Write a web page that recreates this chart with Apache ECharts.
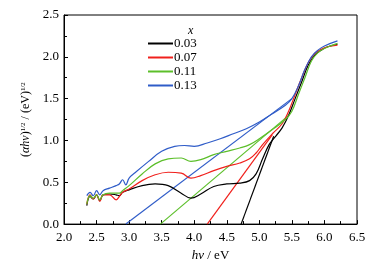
<!DOCTYPE html>
<html>
<head>
<meta charset="utf-8">
<script src="https://cdn.jsdelivr.net/npm/echarts@6/dist/echarts.min.js"></script>
<style>html,body{margin:0;padding:0;background:#fff}#container1{width:386px;height:267px}</style>
</head>
<body>
<div id="container1"></div>
<script>
var names = ['0.03', '0.07', '0.11', '0.13'];
var colors = ['#000000', '#f0201c', '#5cbf2a', '#2f5cc8'];

var x03 = [2.35,2.4,2.45,2.5,2.55,2.6,2.7,2.8,2.85,2.9,3.0,3.2,3.4,3.6,3.8,3.95,4.1,4.3,4.5,4.7,4.85,4.95,5.05,5.15,5.25,5.35,5.45,5.55,5.65,5.75,5.85,5.95,6.05,6.2];
var y03 = [0.22,0.33,0.3,0.35,0.28,0.35,0.36,0.35,0.34,0.38,0.41,0.46,0.48,0.46,0.37,0.31,0.36,0.45,0.48,0.49,0.52,0.6,0.78,0.95,1.05,1.15,1.3,1.5,1.7,1.9,2.02,2.08,2.12,2.15];

var x07 = [2.35,2.4,2.45,2.5,2.55,2.6,2.7,2.8,2.85,2.9,3.0,3.2,3.4,3.6,3.8,3.95,4.1,4.3,4.5,4.7,4.85,4.95,5.05,5.2,5.35,5.45,5.55,5.65,5.75,5.85,5.95,6.05,6.2];
var y07 = [0.24,0.35,0.3,0.35,0.27,0.35,0.35,0.29,0.33,0.38,0.42,0.52,0.59,0.62,0.61,0.55,0.58,0.64,0.69,0.73,0.78,0.85,0.95,1.08,1.2,1.35,1.55,1.75,1.93,2.04,2.09,2.12,2.14];

var x11 = [2.35,2.4,2.45,2.5,2.55,2.6,2.7,2.8,2.85,2.9,3.0,3.2,3.4,3.6,3.8,3.95,4.1,4.3,4.5,4.7,4.85,5.0,5.2,5.4,5.5,5.6,5.7,5.8,5.9,6.0,6.2];
var y11 = [0.24,0.34,0.31,0.35,0.29,0.35,0.37,0.37,0.37,0.4,0.46,0.6,0.72,0.78,0.79,0.75,0.77,0.83,0.87,0.91,0.95,1.02,1.13,1.25,1.35,1.55,1.75,1.95,2.05,2.1,2.16];

var x13 = [2.35,2.4,2.45,2.5,2.55,2.6,2.7,2.8,2.85,2.9,2.95,3.0,3.1,3.3,3.5,3.7,3.85,4.0,4.2,4.4,4.6,4.8,5.0,5.2,5.4,5.5,5.6,5.7,5.8,5.9,6.0,6.2];
var y13 = [0.34,0.38,0.34,0.4,0.35,0.4,0.43,0.46,0.48,0.53,0.47,0.55,0.62,0.75,0.87,0.93,0.94,0.93,0.97,1.02,1.08,1.14,1.22,1.32,1.42,1.5,1.65,1.85,2.0,2.08,2.13,2.19];

// tangent (Tauc) lines: start and end points
var fitX = [[4.72, 5.22], [4.2, 5.2], [3.48, 5.45], [2.95, 5.5]];
var fitY = [[0, 1.05], [0, 1.07], [0, 1.3], [0, 1.5]];

function pairs(xs, ys) {
    return xs.map(function (v, i) { return [v, ys[i]]; });
}

var curves = [pairs(x03, y03), pairs(x07, y07), pairs(x11, y11), pairs(x13, y13)];

var dom = document.getElementById("container1");
var myChart = echarts.init(dom);
var font = '"Liberation Serif", "DejaVu Serif", serif';

var series = [];
for (var i = 0; i < 4; i++) {
    series.push({
        name: names[i], type: 'line', smooth: 0.4, showSymbol: false,
        data: curves[i], z: 3,
        lineStyle: {color: colors[i], width: 1.2}, itemStyle: {color: colors[i]}
    });
}
for (var j = 0; j < 4; j++) {
    series.push({
        name: 'fit' + j, type: 'line', showSymbol: false, z: 2,
        data: pairs(fitX[j], fitY[j]),
        lineStyle: {color: colors[j], width: 1.2}
    });
}

option = {
    animation: false,
    textStyle: {fontFamily: font},
    grid: {left: 64, right: 29, top: 15, bottom: 39, show: true, borderColor: '#000', borderWidth: 1},
    title: {
        text: 'x', left: 183, top: 20,
        textStyle: {fontFamily: font, fontStyle: 'italic', fontWeight: 'normal', fontSize: 12, color: '#000'}
    },
    legend: {
        data: names, orient: 'vertical', left: 143, top: 32,
        itemWidth: 25, itemHeight: 2, itemGap: 1, icon: 'rect',
        textStyle: {fontFamily: font, fontSize: 13, color: '#000', padding: [0, 0, 0, -4]}
    },
    xAxis: {
        type: 'value', min: 2, max: 6.5, interval: 0.5,
        name: '{i|hν} / eV', nameLocation: 'middle', nameGap: 20,
        nameTextStyle: {fontFamily: font, fontSize: 13, color: '#000', rich: {i: {fontStyle: 'italic', fontFamily: font, fontSize: 13}}},
        axisLine: {lineStyle: {color: '#000'}},
        axisTick: {inside: true, length: 4, lineStyle: {color: '#000'}},
        minorTick: {show: true, splitNumber: 2, length: 3, lineStyle: {color: '#000'}},
        axisLabel: {color: '#000', fontSize: 13, fontFamily: font, margin: 7, formatter: function (v) { return v.toFixed(1); }},
        splitLine: {show: false}
    },
    yAxis: {
        type: 'value', min: 0, max: 2.5, interval: 0.5,
        name: '({i|αhν}){s|1/2} / (eV){s|1/2}', nameLocation: 'middle', nameRotate: 90, nameGap: 29,
        nameTextStyle: {fontFamily: font, fontSize: 12, color: '#000',
            rich: {i: {fontStyle: 'italic', fontFamily: font, fontSize: 12}, s: {fontSize: 7, fontFamily: font, padding: [0, 0, 6, 0]}}},
        axisLine: {lineStyle: {color: '#000'}},
        axisTick: {inside: true, length: 4, lineStyle: {color: '#000'}},
        minorTick: {show: true, splitNumber: 2, length: 3, lineStyle: {color: '#000'}},
        axisLabel: {color: '#000', fontSize: 13, fontFamily: font, margin: 5, formatter: function (v) { return v.toFixed(1); }},
        splitLine: {show: false}
    },
    series: series
};

if (option && typeof option === "object") {
    myChart.setOption(option, true);
}
</script>
</body>
</html>
